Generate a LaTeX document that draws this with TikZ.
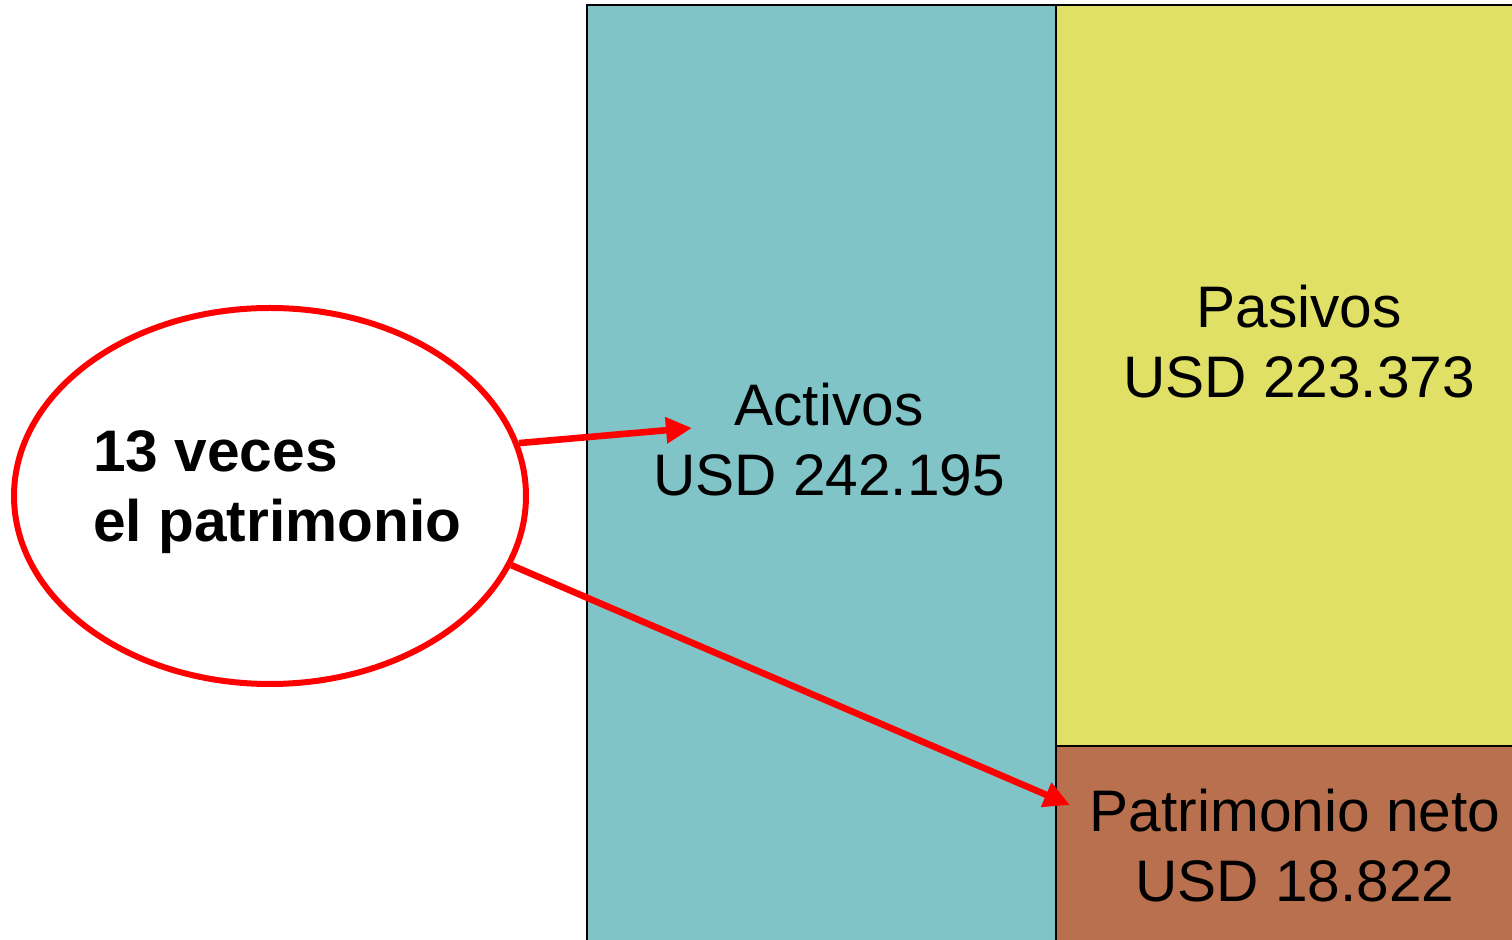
\documentclass[tikz,border=0pt]{standalone}
\usepackage{fontspec}
\setmainfont{Liberation Sans}
\usetikzlibrary{positioning,arrows.meta,shapes.geometric}
\definecolor{activocolor}{RGB}{128,196,200}
\definecolor{pasivocolor}{RGB}{224,224,102}
\definecolor{patrimoniocolor}{RGB}{184,112,78}

\begin{document}
\begin{tikzpicture}[
    x=1pt, y=1pt,
    bloque/.style={draw=black, line width=1pt},
    rotulo/.style={font=\fontsize{29.3}{35}\selectfont, align=center, inner sep=0pt},
    flecha/.style={draw=red, line width=3.3pt, -{Triangle[length=13pt,width=12.5pt]}}
]
\useasboundingbox (0,0) rectangle (756,-470);
\clip (0,0) rectangle (756,-470);
\draw[bloque, fill=activocolor] (293.5,-2.5) rectangle (528,-480);
\draw[bloque, fill=pasivocolor] (528,-2.5) rectangle (770,-373);
\draw[bloque, fill=patrimoniocolor] (528,-373) rectangle (770,-480);
\node[rotulo] (activos) at (414.5,-220) {Activos\\USD 242.195};
\node[rotulo] (pasivos) at (649.5,-171) {Pasivos\\USD 223.373};
\node[rotulo] (patrimonio) at (647.5,-423) {Patrimonio neto\\USD 18.822};
\node[draw=red, line width=3pt, ellipse, minimum width=256pt, minimum height=188pt, inner sep=0pt] (multiplo) at (135,-248) {};
\node[rotulo, align=left, anchor=west, font=\fontsize{29.3}{35}\selectfont\bfseries] (veces) at (46.5,-246.25) {13 veces\\el patrimonio};
\coordinate (puntaA) at (346,-214);
\coordinate (puntaP) at (535,-402.5);
\draw[flecha] (multiplo.12) -- (puntaA);
\draw[flecha] (multiplo.-16) -- (puntaP);
\end{tikzpicture}
\end{document}
